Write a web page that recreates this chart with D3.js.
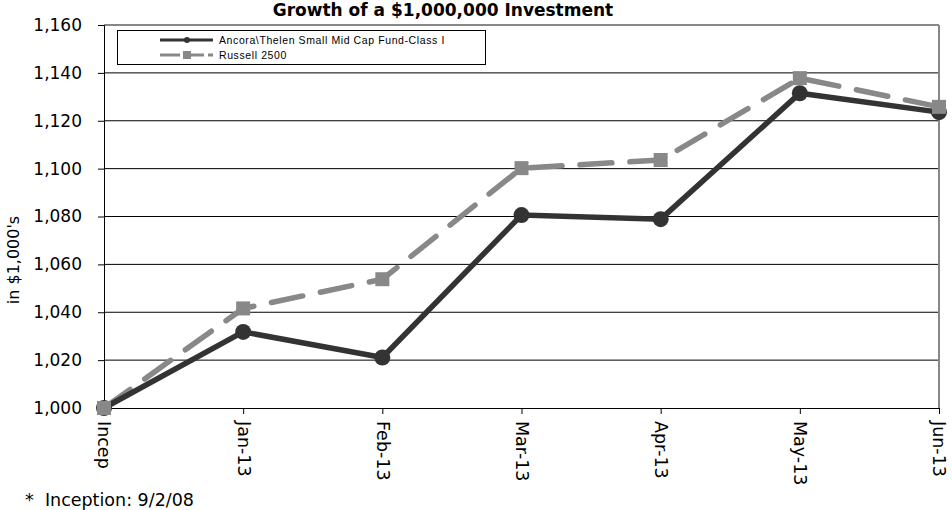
<!DOCTYPE html>
<html><head><meta charset="utf-8">
<script src="https://cdn.jsdelivr.net/npm/d3@7"></script>
<style>body{margin:0;background:#fff;}svg{display:block;font-family:"DejaVu Sans",sans-serif;}</style>
</head><body>
<svg id="c" width="952" height="510"></svg>
<script>
const categories = ["Incep","Jan-13","Feb-13","Mar-13","Apr-13","May-13","Jun-13"];
const fundValues = [1000, 1031.8, 1021.1, 1080.6, 1078.9, 1131.5, 1123.6];
const russellValues = [1000, 1041.6, 1053.8, 1100.2, 1103.6, 1137.8, 1125.8];
const yTicks = [1000,1020,1040,1060,1080,1100,1120,1140,1160];
const seriesNames = ["Ancora\\Thelen Small Mid Cap Fund-Class I","Russell 2500"];

const svg = d3.select("#c");
const L = 104, R = 939, T = 25, B = 408;
const x = d3.scalePoint().domain(categories).range([L, R]);
const y = d3.scaleLinear().domain([1000,1160]).range([B, T]);
const F = "DejaVu Sans, sans-serif";

// gridlines
svg.append("g").selectAll("line").data(yTicks.slice(1)).join("line")
  .attr("x1", L).attr("x2", R).attr("y1", d=>y(d)).attr("y2", d=>y(d))
  .attr("stroke", d=>d===1160?"#888":"#000").attr("stroke-width", d=>d===1160?2:1);
// right border
svg.append("line").attr("x1",R).attr("x2",R).attr("y1",T).attr("y2",B).attr("stroke","#888").attr("stroke-width",2);

// y axis
const ya = svg.append("g").attr("transform",`translate(${L},0)`)
  .call(d3.axisLeft(y).tickValues(yTicks).tickFormat(d3.format(",")).tickSize(6).tickPadding(16));
ya.select(".domain").attr("stroke","#000");
ya.selectAll("text").attr("font-size",17).attr("fill","#000").attr("font-family",F);

// x axis
const xa = svg.append("g").attr("transform",`translate(0,${B})`)
  .call(d3.axisBottom(x).tickSize(6).tickSizeOuter(0));
xa.select(".domain").attr("stroke","#000");
xa.selectAll("text").attr("font-size",17.5).attr("fill","#000").attr("font-family",F)
  .attr("transform","rotate(90)").attr("text-anchor","start").attr("dy","0.35em").attr("x",13).attr("y",0);

// lines
const lineGen = d3.line().x((d,i)=>x(categories[i])).y(d=>y(d));
svg.append("path").datum(russellValues).attr("d",lineGen).attr("fill","none")
  .attr("stroke","#888").attr("stroke-width",5.5).attr("stroke-dasharray","32,18").attr("stroke-linecap","round");
svg.append("path").datum(fundValues).attr("d",lineGen).attr("fill","none")
  .attr("stroke","#333").attr("stroke-width",5.5);
svg.append("g").selectAll("circle").data(fundValues).join("circle")
  .attr("cx",(d,i)=>x(categories[i])).attr("cy",d=>y(d)).attr("r",8).attr("fill","#333");
svg.append("g").selectAll("rect").data(russellValues).join("rect")
  .attr("x",(d,i)=>x(categories[i])-7).attr("y",d=>y(d)-7).attr("width",14).attr("height",14).attr("fill","#888");

// legend
const lg = svg.append("g");
lg.append("rect").attr("x",117.5).attr("y",30.5).attr("width",368).attr("height",34).attr("fill","#fff").attr("stroke","#000").attr("stroke-width",1);
lg.append("line").attr("x1",160).attr("x2",213).attr("y1",40).attr("y2",40).attr("stroke","#333").attr("stroke-width",3);
lg.append("circle").attr("cx",187).attr("cy",40).attr("r",3).attr("fill","#333");
lg.append("line").attr("x1",160).attr("x2",213).attr("y1",55).attr("y2",55).attr("stroke","#888").attr("stroke-width",3).attr("stroke-dasharray","20,4");
lg.append("rect").attr("x",183).attr("y",51).attr("width",8).attr("height",8).attr("fill","#888");
lg.selectAll("text").data(seriesNames).join("text")
  .attr("x",219).attr("y",(d,i)=>40+i*15).attr("dy","0.35em").attr("font-size",10.5).attr("letter-spacing","0.6px")
  .attr("font-family","Liberation Sans, Arial, sans-serif")
  .attr("fill","#000").text(d=>d);

// title
svg.append("text").attr("x",443).attr("y",16).attr("text-anchor","middle").attr("font-size",17).attr("font-weight","bold")
  .attr("font-family",F).attr("fill","#000").text("Growth of a $1,000,000 Investment");

// y label
svg.append("text").attr("transform","translate(13,260) rotate(-90)").attr("text-anchor","middle").attr("dy","0.35em").attr("font-size",16)
  .attr("font-family",F).attr("fill","#000").text("in $1,000's");

// footnote
svg.append("text").attr("x",25).attr("y",506).attr("font-size",17.5).attr("font-family",F).attr("fill","#000").attr("xml:space","preserve").text("*  Inception: 9/2/08");
</script>
</body></html>
